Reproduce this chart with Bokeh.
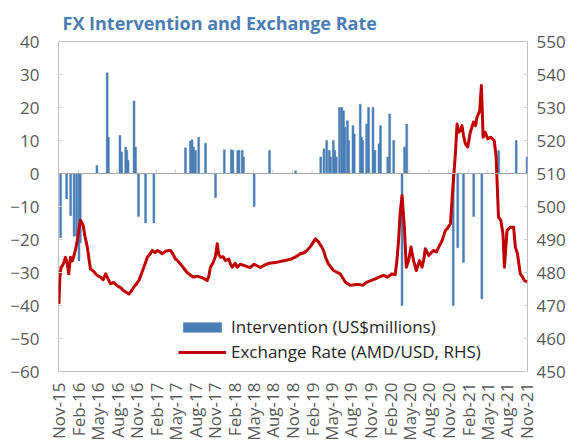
import math
import pandas as pd
from bokeh.plotting import figure
from bokeh.models import Range1d, LinearAxis, FixedTicker, Legend, LegendItem, Span, ColumnDataSource
from bokeh.embed import file_html
from bokeh.resources import INLINE

# ---------------- data ----------------
tick_labels = ["Nov-15", "Feb-16", "May-16", "Aug-16", "Nov-16", "Feb-17", "May-17", "Aug-17",
               "Nov-17", "Feb-18", "May-18", "Aug-18", "Nov-18", "Feb-19", "May-19", "Aug-19",
               "Nov-19", "Feb-20", "May-20", "Aug-20", "Nov-20", "Feb-21", "May-21", "Aug-21", "Nov-21"]

bar_dates = ["2015-11-10", "2015-12-08", "2015-12-27", "2016-01-12", "2016-01-24", "2016-02-04", "2016-02-10",
             "2016-04-28", "2016-06-15", "2016-06-21", "2016-08-14", "2016-08-22", "2016-09-10", "2016-09-15",
             "2016-09-21", "2016-10-19", "2016-10-26",
             "2016-11-09", "2016-12-12", "2017-01-20",
             "2017-06-17", "2017-07-10", "2017-07-18", "2017-07-25", "2017-08-03", "2017-08-18", "2017-09-19",
             "2017-11-05",
             "2017-12-16", "2018-01-18", "2018-01-25", "2018-02-17", "2018-02-23", "2018-03-10", "2018-03-16",
             "2018-05-05", "2018-07-16", "2018-11-15",
             "2019-03-13", "2019-03-28", "2019-04-10", "2019-04-22", "2019-04-28", "2019-05-11", "2019-05-18",
             "2019-05-25", "2019-06-09", "2019-06-20", "2019-06-28", "2019-07-04", "2019-07-16", "2019-07-22",
             "2019-08-11", "2019-08-17", "2019-09-14", "2019-09-20", "2019-09-26", "2019-10-14", "2019-10-23",
             "2019-11-13", "2019-11-22", "2019-12-11", "2019-12-18", "2020-01-21", "2020-01-30", "2020-02-18",
             "2020-03-28", "2020-04-09", "2020-04-19",
             "2020-11-23", "2020-12-14", "2021-01-10", "2021-02-27", "2021-04-06", "2021-06-24", "2021-09-14",
             "2021-11-04"]
bar_values = [-19.5, -7.7, -12.8, -19, -19, -26.5, -21,
              2.4, 30.5, 11, 11.5, 6.5, 8, 7,
              4, 22, 8,
              -13, -15, -15,
              7.8, 9.8, 10.2, 8, 7, 11, 9.2,
              -7.3,
              7.2, 7.2, 7, 7, 7, 7, 5,
              -10, 7, 0.8,
              5, 7.5, 10, 7, 5, 10, 7,
              5, 20, 20, 19, 14, 16, 10,
              14.5, 12, 21, 11, 10, 15, 20,
              20, 7, 9, 14.5, 5, 18, 10,
              -40, 8, 15,
              -40, -22.5, -27, -13, -38, 7, 10,
              5]

rate_dates = ["2015-11-02", "2015-11-06", "2015-11-12", "2015-11-18", "2015-11-25", "2015-12-03", "2015-12-10",
              "2015-12-18", "2015-12-26", "2016-01-04", "2016-01-11", "2016-01-19", "2016-01-27", "2016-02-04",
              "2016-02-11", "2016-02-18", "2016-02-24", "2016-03-03", "2016-03-14", "2016-03-22", "2016-03-29",
              "2016-04-10", "2016-04-22", "2016-05-03", "2016-05-15", "2016-05-27", "2016-06-08", "2016-06-20",
              "2016-07-01", "2016-07-15", "2016-08-01", "2016-08-15", "2016-09-01", "2016-09-12", "2016-09-25",
              "2016-10-05", "2016-10-18", "2016-10-30", "2016-11-11", "2016-11-22", "2016-12-04", "2016-12-12",
              "2016-12-20", "2017-01-01", "2017-01-13", "2017-01-25", "2017-02-06", "2017-02-18", "2017-02-28",
              "2017-03-18", "2017-04-08", "2017-04-20", "2017-05-01", "2017-05-12", "2017-05-24", "2017-06-10",
              "2017-06-25", "2017-07-10", "2017-07-25", "2017-08-10", "2017-08-26", "2017-09-10", "2017-09-27",
              "2017-10-05", "2017-10-12", "2017-10-25", "2017-11-05", "2017-11-13", "2017-11-20", "2017-11-28",
              "2017-12-10", "2017-12-22", "2018-01-06", "2018-01-14", "2018-01-22", "2018-02-05", "2018-02-15",
              "2018-03-01", "2018-03-24", "2018-04-15", "2018-05-05", "2018-06-03", "2018-06-25", "2018-07-15",
              "2018-08-12", "2018-09-15", "2018-10-22", "2018-11-15", "2018-12-08", "2018-12-25", "2019-01-08",
              "2019-01-25", "2019-02-16", "2019-03-03", "2019-03-15", "2019-03-26", "2019-04-05", "2019-04-18",
              "2019-05-12", "2019-06-12", "2019-07-06", "2019-07-29", "2019-08-15", "2019-09-06", "2019-09-25",
              "2019-10-16", "2019-11-05", "2019-11-24", "2019-12-12", "2020-01-01", "2020-01-20", "2020-02-10",
              "2020-02-25", "2020-03-04", "2020-03-12", "2020-03-19", "2020-03-28", "2020-04-02", "2020-04-08",
              "2020-04-17", "2020-04-28", "2020-05-09", "2020-05-21", "2020-06-03", "2020-06-18", "2020-06-30",
              "2020-07-08", "2020-07-15", "2020-07-31", "2020-08-12", "2020-08-23", "2020-09-05", "2020-09-16",
              "2020-10-02", "2020-10-17", "2020-10-28", "2020-11-10", "2020-11-17", "2020-11-25", "2020-12-03",
              "2020-12-11", "2020-12-18", "2020-12-26", "2021-01-03", "2021-01-10", "2021-01-19", "2021-01-30",
              "2021-02-11", "2021-02-26", "2021-03-08", "2021-03-14", "2021-03-27", "2021-04-04", "2021-04-12",
              "2021-04-22", "2021-05-03", "2021-05-19", "2021-06-03", "2021-06-12", "2021-06-23", "2021-07-04",
              "2021-07-14", "2021-07-21", "2021-08-02", "2021-08-17", "2021-09-02", "2021-09-10", "2021-09-20",
              "2021-10-03", "2021-10-15", "2021-10-22", "2021-11-04"]
rate_values = [470.5, 478, 481.6, 482, 483, 484.6, 483,
               479.6, 484.6, 483.5, 485, 487, 489.7, 493,
               495.8, 495, 494.2, 491, 487.7, 484, 481,
               480.5, 479.6, 479, 478.6, 477.8, 479.6, 478,
               476.6, 477, 476, 475.5, 474.5, 474, 473.5,
               474.2, 475.6, 476.5, 477.6, 479.5, 481.6, 483,
               484.6, 485.5, 486.7, 486, 486.7, 486.2, 485.7,
               486.5, 486.7, 485.5, 484.1, 483.5, 482.6, 481.2,
               480, 479.2, 478.6, 478.9, 478.6, 478.2, 477.6,
               479, 481.6, 483, 485, 488.7, 485.5, 484.6,
               484.8, 483.6, 484.1, 482.5, 481.6, 482.8, 481.6,
               482.5, 482, 481.5, 482.5, 481.5, 482.3, 482.8,
               483, 483.5, 484, 484.7, 485.7, 486, 486.7,
               488, 490.2, 489.2, 488, 486.7, 484.5, 482.6,
               480.6, 479.6, 477.1, 476.1, 476.3, 476.4, 476.1,
               477.1, 477.6, 478.1, 478.6, 479.1, 478.6, 479.6,
               479.3, 483.6, 490, 497.8, 503.3, 499, 493.7,
               481.6, 483.6, 487.7, 483.6, 480.6, 483.6, 481.6,
               484, 487.2, 485.2, 486, 486.7, 486.2, 487.7,
               489.7, 492.7, 493.5, 494.8, 501.8, 508.9, 516,
               525, 522.5, 523, 524.5, 521.5, 519, 518,
               522.5, 525.6, 524.5, 527, 529, 536.7, 521,
               522.5, 520.5, 521, 520, 515, 496.8, 495.8,
               491.7, 481.6, 492.7, 493.7, 493.7, 487.7, 485.7,
               479.6, 478.5, 477.6, 477.1]

left_ticks = [-60, -50, -40, -30, -20, -10, 0, 10, 20, 30, 40]
right_ticks = [450, 460, 470, 480, 490, 500, 510, 520, 530, 540, 550]

assert len(bar_dates) == len(bar_values)
assert len(rate_dates) == len(rate_values)

# ---------------- styling ----------------
FONT = "Open Sans"
GRAY = "#595959"
BLUE = "#4a7eb5"
RED = "#c00000"
DAY = 86400000.0


def ms(s):
    return pd.Timestamp(s).value / 1e6


tick_ms = [pd.to_datetime(t, format="%b-%y").value / 1e6 for t in tick_labels]

bars_src = ColumnDataSource(dict(x=[ms(d) for d in bar_dates], top=bar_values))
rate_src = ColumnDataSource(dict(x=[ms(d) for d in rate_dates], y=rate_values))

p = figure(width=578, height=443, x_axis_type="datetime", output_backend="svg", toolbar_location=None,
           x_range=Range1d(ms("2015-10-31"), ms("2021-11-06")), y_range=Range1d(-60, 40),
           min_border_left=58, min_border_right=51, min_border_top=41, min_border_bottom=71)
p.extra_y_ranges = {"rhs": Range1d(450, 550)}

p.xgrid.visible = False
p.ygrid.visible = False
p.outline_line_color = "#bfbfbf"
p.outline_line_width = 1
p.background_fill_color = "white"
p.border_fill_color = "white"

p.title.text = "FX Intervention and Exchange Rate"
p.title.text_font = FONT
p.title.text_font_size = "18px"
p.title.text_font_style = "bold"
p.title.text_color = "#4a7db4"
p.title.align = "left"
p.title.offset = 4
p.title.standoff = 13

# zero line + small tick marks on it
p.add_layout(Span(location=0, dimension="width", line_color="#a6a6a6", line_width=1))
zt = ColumnDataSource(dict(x=tick_ms, y0=[0] * len(tick_ms), y1=[1.2] * len(tick_ms)))
p.segment(x0="x", x1="x", y0="y0", y1="y1", source=zt, line_color="#d0d0d0", line_width=1)

bars = p.vbar(x="x", top="top", bottom=0, width=9 * DAY, source=bars_src,
              fill_color=BLUE, line_color=BLUE, line_width=0.5)
line = p.line(x="x", y="y", source=rate_src, y_range_name="rhs", line_color=RED, line_width=3,
              line_join="round")

# axes
yl = p.yaxis[0]
yl.ticker = FixedTicker(ticks=left_ticks)
yr = LinearAxis(y_range_name="rhs", ticker=FixedTicker(ticks=right_ticks))
p.add_layout(yr, "right")
for ax in (yl, yr):
    ax.axis_line_color = None
    ax.major_tick_in = 4
    ax.major_tick_out = 0
    ax.major_tick_line_color = "#d0d0d0"
    ax.minor_tick_line_color = None
    ax.major_label_text_font = FONT
    ax.major_label_text_font_size = "17px"
    ax.major_label_text_color = GRAY
yl.major_label_standoff = 19
yr.major_label_standoff = 9

xa = p.xaxis[0]
xa.ticker = FixedTicker(ticks=tick_ms)
xa.major_label_overrides = {t: lab for t, lab in zip(tick_ms, tick_labels)}
xa.major_label_orientation = math.pi / 2
xa.axis_line_color = None
xa.major_tick_line_color = None
xa.minor_tick_line_color = None
xa.major_label_text_font = FONT
xa.major_label_text_font_size = "17px"
xa.major_label_text_color = GRAY
xa.major_label_standoff = 5

legend = Legend(items=[LegendItem(label="Intervention (US$millions)", renderers=[bars]),
                       LegendItem(label="Exchange Rate (AMD/USD, RHS)", renderers=[line])],
                location=(120, 8), orientation="vertical",
                glyph_width=48, glyph_height=12, label_height=20, spacing=2,
                label_standoff=5, padding=0, margin=0,
                border_line_color=None, background_fill_color="white", background_fill_alpha=1,
                label_text_font=FONT, label_text_font_size="17px", label_text_color="#262626")
p.add_layout(legend)

open("out.html", "w").write(file_html(p, INLINE))
